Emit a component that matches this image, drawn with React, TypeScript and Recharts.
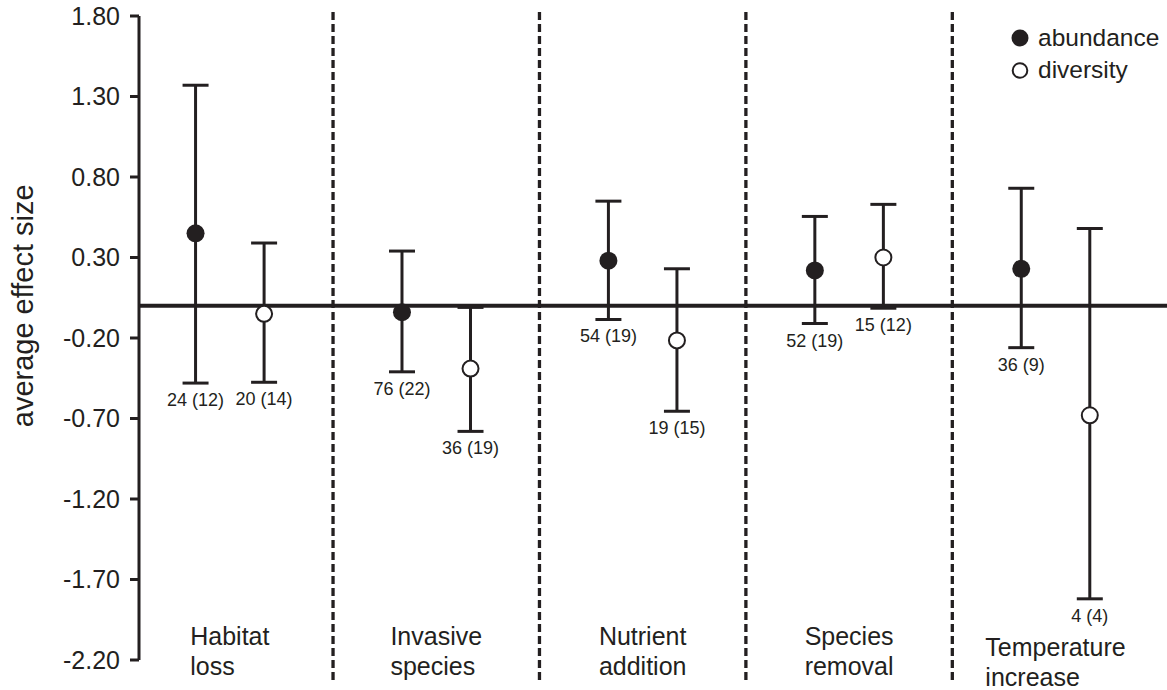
import React from 'react';
import {
  ScatterChart,
  Scatter,
  XAxis,
  YAxis,
  ErrorBar,
  ReferenceLine,
} from 'recharts';

const INK = '#231f20';
const FONT = '"Liberation Sans", Arial, Helvetica, sans-serif';

// categories (two-line labels under each group)
const CATEGORIES = [
  ['Habitat', 'loss'],
  ['Invasive', 'species'],
  ['Nutrient', 'addition'],
  ['Species', 'removal'],
  ['Temperature', 'increase'],
];

// abundance: mean effect size and its interval
const ABUNDANCE_MEAN = [0.45, -0.04, 0.28, 0.22, 0.23];
const ABUNDANCE_LOW = [-0.48, -0.41, -0.085, -0.11, -0.26];
const ABUNDANCE_HIGH = [1.37, 0.34, 0.65, 0.555, 0.73];
const ABUNDANCE_N = ['24 (12)', '76 (22)', '54 (19)', '52 (19)', '36 (9)'];

// diversity: mean effect size and its interval
const DIVERSITY_MEAN = [-0.05, -0.39, -0.215, 0.3, -0.68];
const DIVERSITY_LOW = [-0.475, -0.78, -0.655, -0.015, -1.82];
const DIVERSITY_HIGH = [0.39, -0.01, 0.23, 0.63, 0.48];
const DIVERSITY_N = ['20 (14)', '36 (19)', '19 (15)', '15 (12)', '4 (4)'];

const Y_TICKS = [-2.2, -1.7, -1.2, -0.7, -0.2, 0.3, 0.8, 1.3, 1.8];

// layout / style constants
const PAIR_OFFSET = 0.166;
const X_DOMAIN: [number, number] = [-0.44, 4.54];
const CATEGORY_DROP: Record<number, number> = { 4: 11 };

const buildSeries = (
  mean: number[],
  low: number[],
  high: number[],
  n: string[],
  shift: number
) =>
  mean.map((m, i) => ({
    x: i + shift,
    y: m,
    err: [m - low[i], high[i] - m],
    n: n[i],
  }));

const buildLabels = (low: number[], n: string[], shift: number) =>
  low.map((l, i) => ({ x: i + shift, y: l, n: n[i] }));

const abundanceData = buildSeries(
  ABUNDANCE_MEAN,
  ABUNDANCE_LOW,
  ABUNDANCE_HIGH,
  ABUNDANCE_N,
  -PAIR_OFFSET
);
const diversityData = buildSeries(
  DIVERSITY_MEAN,
  DIVERSITY_LOW,
  DIVERSITY_HIGH,
  DIVERSITY_N,
  PAIR_OFFSET
);
const labelData = [
  ...buildLabels(ABUNDANCE_LOW, ABUNDANCE_N, -PAIR_OFFSET),
  ...buildLabels(DIVERSITY_LOW, DIVERSITY_N, PAIR_OFFSET),
];
const DIVIDERS = CATEGORIES.slice(1).map((_, i) => i + 0.5);

let measureCtx: CanvasRenderingContext2D | null = null;
const textWidth = (s: string, size: number) => {
  if (!measureCtx) measureCtx = document.createElement('canvas').getContext('2d');
  if (!measureCtx) return s.length * size * 0.55;
  measureCtx.font = `${size}px ${FONT}`;
  return measureCtx.measureText(s).width;
};

const FilledDot = (props: any) => (
  <circle cx={props.cx} cy={props.cy} r={9} fill={INK} />
);

const OpenDot = (props: any) => (
  <circle
    cx={props.cx}
    cy={props.cy}
    r={8}
    fill="#fff"
    stroke={INK}
    strokeWidth={2}
  />
);

const CountLabel = (props: any) => (
  <text
    x={props.cx}
    y={props.cy + 23}
    textAnchor="middle"
    fontSize={18}
    fontFamily={FONT}
    fill={INK}
  >
    {props.payload.n}
  </text>
);

const CategoryTick = (props: any) => {
  const { x, y, payload } = props;
  const idx = Math.round(payload.value);
  const lines = CATEGORIES[idx];
  if (!lines) return null;
  const size = 25;
  const w = Math.max(...lines.map((l) => textWidth(l, size)));
  const top = y - 23 + (CATEGORY_DROP[idx] ?? 0);
  return (
    <text
      x={x - w / 2}
      y={top}
      fontSize={size}
      fontFamily={FONT}
      fill={INK}
      textAnchor="start"
    >
      {lines.map((l, i) => (
        <tspan key={i} x={x - w / 2} y={top + i * 30}>
          {l}
        </tspan>
      ))}
    </text>
  );
};

const YLabel = (props: any) => {
  const vb = props.viewBox || { x: 39, y: 16, width: 100, height: 644 };
  const cx = vb.x - 6;
  const cy = vb.y + (vb.height * 1.8) / 4;
  return (
    <text
      x={cx}
      y={cy}
      transform={`rotate(-90 ${cx} ${cy})`}
      textAnchor="middle"
      fontSize={29}
      fontFamily={FONT}
      fill={INK}
    >
      average effect size
    </text>
  );
};

const Legend = () => (
  <svg
    width={160}
    height={100}
    style={{ position: 'absolute', left: 1000, top: 0 }}
  >
    <circle cx={20} cy={38} r={8.5} fill={INK} />
    <text x={38} y={46} fontSize={24.5} fontFamily={FONT} fill={INK}>
      abundance
    </text>
    <circle cx={20} cy={70.5} r={7.3} fill="#fff" stroke={INK} strokeWidth={2} />
    <text x={38} y={78} fontSize={24.5} fontFamily={FONT} fill={INK}>
      diversity
    </text>
  </svg>
);

export default function App() {
  return (
    <div
      style={{
        position: 'absolute',
        left: 0,
        top: 0,
        width: 1167,
        height: 690,
        background: '#fff',
      }}
    >
      <ScatterChart
        width={1167}
        height={690}
        margin={{ top: 16, right: 0, bottom: 0, left: 39 }}
      >
        <XAxis
          type="number"
          dataKey="x"
          domain={X_DOMAIN}
          ticks={[0, 1, 2, 3, 4]}
          interval={0}
          allowDataOverflow
          axisLine={false}
          tickLine={false}
          height={30}
          tick={<CategoryTick />}
        />
        <YAxis
          type="number"
          dataKey="y"
          domain={[-2.2, 1.8]}
          ticks={Y_TICKS}
          interval={0}
          width={100}
          tickSize={9}
          tickMargin={10}
          allowDataOverflow
          axisLine={{ stroke: INK, strokeWidth: 3 }}
          tickLine={{ stroke: INK, strokeWidth: 3 }}
          tick={{ fill: INK, fontSize: 25, fontFamily: FONT }}
          tickFormatter={(v: number) => v.toFixed(2)}
          label={<YLabel />}
        />
        <ReferenceLine y={0} stroke={INK} strokeWidth={4} />
        {DIVIDERS.map((d) => (
          <ReferenceLine
            key={d}
            segment={[
              { x: d, y: 1.825 },
              { x: d, y: -2.325 },
            ]}
            ifOverflow="visible"
            stroke={INK}
            strokeWidth={3.3}
            strokeDasharray="8 4"
          />
        ))}
        <Scatter
          data={abundanceData}
          shape={FilledDot}
          isAnimationActive={false}
        >
          <ErrorBar
            dataKey="err"
            direction="y"
            width={13}
            stroke={INK}
            strokeWidth={3}
            isAnimationActive={false}
          />
        </Scatter>
        <Scatter
          data={diversityData}
          shape={OpenDot}
          isAnimationActive={false}
        >
          <ErrorBar
            dataKey="err"
            direction="y"
            width={13}
            stroke={INK}
            strokeWidth={3}
            isAnimationActive={false}
          />
        </Scatter>
        <Scatter
          data={labelData}
          shape={CountLabel}
          isAnimationActive={false}
        />
      </ScatterChart>
      <Legend />
    </div>
  );
}
